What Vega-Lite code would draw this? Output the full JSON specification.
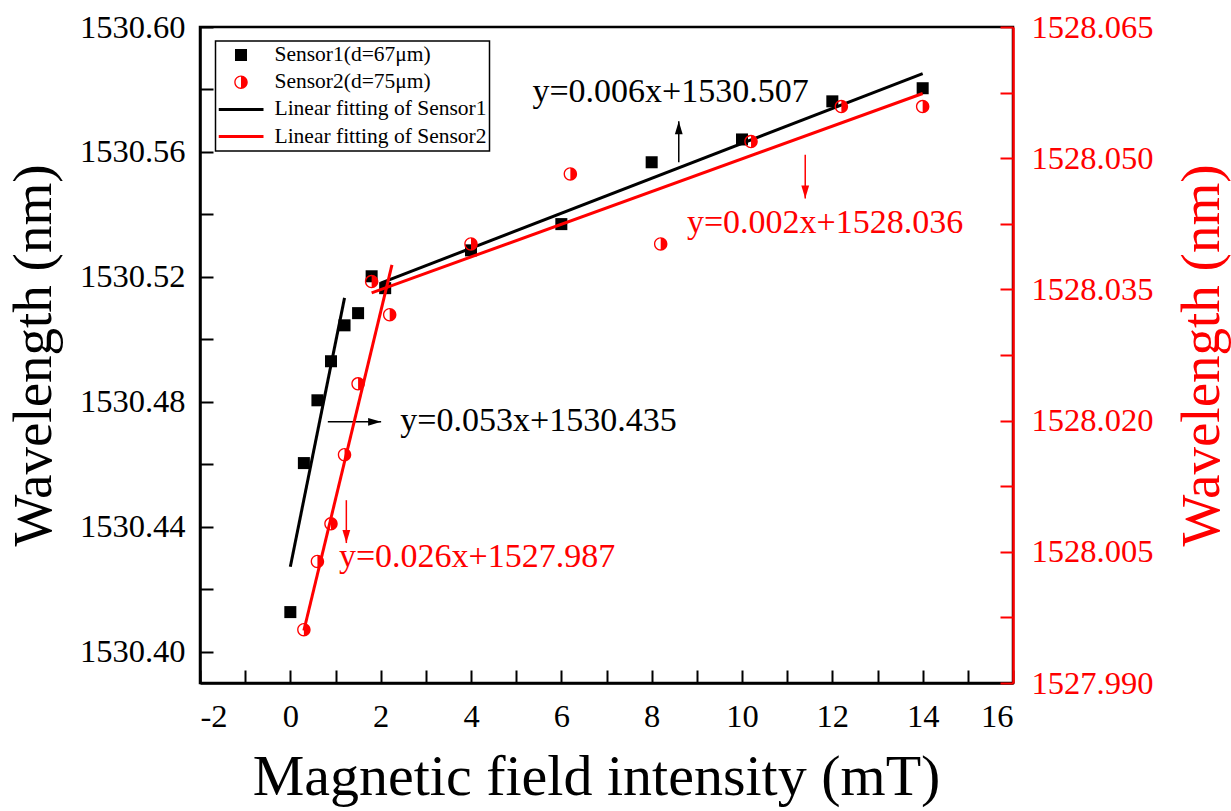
{
  "$schema": "https://vega.github.io/schema/vega-lite/v6.json",
  "width": 813,
  "height": 656,
  "autosize": "none",
  "padding": {"left": 200, "top": 27, "right": 218, "bottom": 128},
  "background": "white",
  "config": {
    "font": "Liberation Serif",
    "view": {"stroke": "black", "strokeWidth": 2.5},
    "legend": {"strokeWidth": 1.5},
    "axis": {
      "labelFont": "Liberation Serif", "labelFontSize": 32.5, "labelColor": "black",
      "titleFont": "Liberation Serif", "titleFontSize": 55, "titleFontWeight": "normal", "titleColor": "black",
      "domainColor": "black", "domainWidth": 2.5, "tickColor": "black", "tickWidth": 2, "grid": false
    }
  },
  "datasets": {
    "s1": [
      {"x": 0, "y": 1530.4127, "series": "Sensor1(d=67μm)"},
      {"x": 0.3, "y": 1530.4604, "series": "Sensor1(d=67μm)"},
      {"x": 0.6, "y": 1530.4805, "series": "Sensor1(d=67μm)"},
      {"x": 0.9, "y": 1530.493, "series": "Sensor1(d=67μm)"},
      {"x": 1.2, "y": 1530.5045, "series": "Sensor1(d=67μm)"},
      {"x": 1.5, "y": 1530.5084, "series": "Sensor1(d=67μm)"},
      {"x": 1.8, "y": 1530.5202, "series": "Sensor1(d=67μm)"},
      {"x": 2.1, "y": 1530.5164, "series": "Sensor1(d=67μm)"},
      {"x": 4, "y": 1530.5285, "series": "Sensor1(d=67μm)"},
      {"x": 6, "y": 1530.5369, "series": "Sensor1(d=67μm)"},
      {"x": 8, "y": 1530.5567, "series": "Sensor1(d=67μm)"},
      {"x": 10, "y": 1530.564, "series": "Sensor1(d=67μm)"},
      {"x": 12, "y": 1530.5762, "series": "Sensor1(d=67μm)"},
      {"x": 14, "y": 1530.5804, "series": "Sensor1(d=67μm)"}
    ],
    "s2": [
      {"x": 0.3, "y": 1527.9961, "series": "Sensor2(d=75μm)"},
      {"x": 0.6, "y": 1528.0039, "series": "Sensor2(d=75μm)"},
      {"x": 0.9, "y": 1528.0082, "series": "Sensor2(d=75μm)"},
      {"x": 1.2, "y": 1528.0161, "series": "Sensor2(d=75μm)"},
      {"x": 1.5, "y": 1528.0242, "series": "Sensor2(d=75μm)"},
      {"x": 1.8, "y": 1528.0359, "series": "Sensor2(d=75μm)"},
      {"x": 2.2, "y": 1528.0321, "series": "Sensor2(d=75μm)"},
      {"x": 4, "y": 1528.0402, "series": "Sensor2(d=75μm)"},
      {"x": 6.2, "y": 1528.0482, "series": "Sensor2(d=75μm)"},
      {"x": 8.2, "y": 1528.0402, "series": "Sensor2(d=75μm)"},
      {"x": 10.2, "y": 1528.0519, "series": "Sensor2(d=75μm)"},
      {"x": 12.2, "y": 1528.0559, "series": "Sensor2(d=75μm)"},
      {"x": 14, "y": 1528.0559, "series": "Sensor2(d=75μm)"}
    ],
    "fit1": [
      {"x": 0, "y": 1530.4272, "seg": "a"},
      {"x": 1.2, "y": 1530.5133, "seg": "a"},
      {"x": 2, "y": 1530.518, "seg": "b"},
      {"x": 14, "y": 1530.5851, "seg": "b"}
    ],
    "fit2": [
      {"x": 0.3, "y": 1527.996, "seg": "a"},
      {"x": 2.25, "y": 1528.0378, "seg": "a"},
      {"x": 1.8, "y": 1528.0346, "seg": "b"},
      {"x": 14, "y": 1528.0574, "seg": "b"}
    ],
    "txt1": [
      {"x": 5.36, "y": 1530.576, "label": "y=0.006x+1530.507"},
      {"x": 2.435, "y": 1530.4706, "label": "y=0.053x+1530.435"}
    ],
    "txt2": [
      {"x": 8.78, "y": 1528.0414, "label": "y=0.002x+1528.036"},
      {"x": 1.075, "y": 1528.0033, "label": "y=0.026x+1527.987"}
    ],
    "arr1": [
      {"x": 8.6, "y": 1530.5567, "x2": 8.6, "y2": 1530.5698, "dir": "up"},
      {"x": 0.83, "y": 1530.4736, "x2": 2.01, "y2": 1530.4736, "dir": "right"}
    ],
    "arr2": [
      {"x": 11.4, "y": 1528.0504, "x2": 11.4, "y2": 1528.0454, "dir": "down"},
      {"x": 1.24, "y": 1528.0109, "x2": 1.24, "y2": 1528.006, "dir": "down"}
    ]
  },
  "layer": [
    {
      "layer": [
        {
          "data": {"name": "s1"},
          "mark": {"type": "point", "filled": true, "opacity": 1, "size": 2025, "strokeWidth": 0},
          "encoding": {
            "x": {
              "field": "x", "type": "quantitative",
              "scale": {"domain": [-2, 16], "nice": false, "zero": false},
              "axis": {
                "values": [-2, -1, 0, 1, 2, 3, 4, 5, 6, 7, 8, 9, 10, 11, 12, 13, 14, 15, 16],
                "labelExpr": "datum.value % 2 === 0 ? '' + datum.value : ''",
                "labelFontSize": 32.5,
                "tickSize": -13,
                "labelPadding": 30,
                "encode": {
                  "ticks": {
                    "y2": {"condition": {"test": "datum.value % 2 !== 0", "value": -7}, "value": -13}
                  }
                },
                "title": "Magnetic field intensity (mT)",
                "titleFontSize": 58,
                "titleBaseline": "alphabetic",
                "titleX": 396,
                "titleY": 111
              }
            },
            "y": {
              "field": "y", "type": "quantitative",
              "scale": {"domain": [1530.39, 1530.6], "nice": false, "zero": false},
              "axis": {
                "orient": "left",
                "values": [1530.4, 1530.42, 1530.44, 1530.46, 1530.48, 1530.5, 1530.52, 1530.54, 1530.56, 1530.58, 1530.6],
                "labelExpr": "round(datum.value*100) % 4 === 0 ? format(datum.value, '.2f') : ''",
                "labelFontSize": 32.5,
                "tickSize": -13,
                "labelPadding": 28,
                "encode": {
                  "ticks": {
                    "x2": {"condition": {"test": "round(datum.value*100) % 4 !== 0", "value": 7}, "value": 13}
                  }
                },
                "title": "Wavelength (nm)",
                "titleAngle": -90,
                "titleBaseline": "alphabetic",
                "titleAlign": "center",
                "titleX": -150,
                "titleY": 328
              }
            },
            "color": {
              "field": "series", "type": "nominal",
              "scale": {
                "domain": ["Sensor1(d=67μm)", "Sensor2(d=75μm)", "Linear fitting of Sensor1", "Linear fitting of Sensor2"],
                "range": ["black", "#ff0000", "black", "#ff0000"]
              },
              "legend": {
                "title": null,
                "orient": "none",
                "legendX": 15.5,
                "legendY": 14,
                "padding": 3,
                "strokeColor": "black",
                "fillColor": "white",
                "labelFont": "Liberation Serif",
                "labelFontSize": 21.5,
                "labelColor": "black",
                "labelLimit": 320,
                "labelOffset": 11,
                "symbolOffset": 0,
                "clipHeight": 22,
                "rowPadding": 5.2,
                "symbolSize": 2025,
                "symbolStrokeWidth": 0
              }
            },
            "shape": {
              "field": "series", "type": "nominal",
              "scale": {
                "domain": ["Sensor1(d=67μm)", "Sensor2(d=75μm)", "Linear fitting of Sensor1", "Linear fitting of Sensor2"],
                "range": [
                  "M-0.267 -0.267L0.267 -0.267L0.267 0.267L-0.267 0.267Z",
                  "M0 -0.3A0.3 0.3 0 0 1 0 0.3ZM0 0.3A0.3 0.3 0 0 1 0 -0.3L0 -0.24A0.24 0.24 0 0 0 0 0.24Z",
                  "M-1 -0.067L1 -0.067L1 0.067L-1 0.067Z",
                  "M-1 -0.067L1 -0.067L1 0.067L-1 0.067Z"
                ]
              },
              "legend": {
                "title": null,
                "orient": "none",
                "legendX": 15.5,
                "legendY": 14,
                "padding": 3,
                "strokeColor": "black",
                "fillColor": "white",
                "labelFont": "Liberation Serif",
                "labelFontSize": 21.5,
                "labelColor": "black",
                "labelLimit": 320,
                "labelOffset": 11,
                "symbolOffset": 0,
                "clipHeight": 22,
                "rowPadding": 5.2,
                "symbolSize": 2025,
                "symbolStrokeWidth": 0
              }
            }
          }
        },
        {
          "data": {"name": "fit1"},
          "mark": {"type": "line", "strokeWidth": 3, "color": "black"},
          "encoding": {
            "x": {"field": "x", "type": "quantitative"},
            "y": {"field": "y", "type": "quantitative"},
            "detail": {"field": "seg", "type": "nominal"}
          }
        },
        {
          "data": {"name": "txt1"},
          "mark": {"type": "text", "align": "left", "baseline": "alphabetic", "fontSize": 34, "font": "Liberation Serif", "color": "black"},
          "encoding": {
            "x": {"field": "x", "type": "quantitative"},
            "y": {"field": "y", "type": "quantitative"},
            "text": {"field": "label"}
          }
        },
        {
          "data": {"name": "arr1"},
          "mark": {"type": "rule", "strokeWidth": 1.5, "color": "black"},
          "encoding": {
            "x": {"field": "x", "type": "quantitative"},
            "y": {"field": "y", "type": "quantitative"},
            "x2": {"field": "x2"},
            "y2": {"field": "y2"}
          }
        },
        {
          "data": {"name": "arr1"},
          "transform": [{"filter": "datum.dir === 'up'"}],
          "mark": {"type": "point", "shape": "M0 0L-0.6 2L0.6 2Z", "filled": true, "color": "black", "opacity": 1, "size": 169},
          "encoding": {
            "x": {"field": "x2", "type": "quantitative"},
            "y": {"field": "y2", "type": "quantitative"}
          }
        },
        {
          "data": {"name": "arr1"},
          "transform": [{"filter": "datum.dir === 'right'"}],
          "mark": {"type": "point", "shape": "M0 0L-2 -0.6L-2 0.6Z", "filled": true, "color": "black", "opacity": 1, "size": 169},
          "encoding": {
            "x": {"field": "x2", "type": "quantitative"},
            "y": {"field": "y2", "type": "quantitative"}
          }
        }
      ]
    },
    {
      "layer": [
        {
          "data": {"name": "s2"},
          "mark": {"type": "point", "filled": true, "opacity": 1, "size": 2025, "strokeWidth": 0},
          "encoding": {
            "x": {"field": "x", "type": "quantitative"},
            "y": {
              "field": "y", "type": "quantitative",
              "scale": {"domain": [1527.99, 1528.065], "nice": false, "zero": false},
              "axis": {
                "orient": "right",
                "values": [1527.99, 1527.9975, 1528.005, 1528.0125, 1528.02, 1528.0275, 1528.035, 1528.0425, 1528.05, 1528.0575, 1528.065],
                "labelExpr": "round((datum.value-1527.99)*10000) % 150 === 0 ? format(datum.value, '.3f') : ''",
                "labelFontSize": 32.5,
                "tickSize": -13,
                "labelPadding": 31,
                "encode": {
                  "ticks": {
                    "x2": {"condition": {"test": "round((datum.value-1527.99)*10000) % 150 !== 0", "value": -7}, "value": -13}
                  }
                },
                "labelColor": "#ff0000",
                "domainColor": "#ff0000",
                "tickColor": "#ff0000",
                "titleColor": "#ff0000",
                "title": "Wavelength (nm)",
                "titleAngle": -90,
                "titleBaseline": "alphabetic",
                "titleAlign": "center",
                "titleX": 205,
                "titleY": 328
              }
            },
            "color": {"field": "series", "type": "nominal"},
            "shape": {"field": "series", "type": "nominal"}
          }
        },
        {
          "data": {"name": "fit2"},
          "mark": {"type": "line", "strokeWidth": 3, "color": "#ff0000"},
          "encoding": {
            "x": {"field": "x", "type": "quantitative"},
            "y": {"field": "y", "type": "quantitative"},
            "detail": {"field": "seg", "type": "nominal"}
          }
        },
        {
          "data": {"name": "txt2"},
          "mark": {"type": "text", "align": "left", "baseline": "alphabetic", "fontSize": 34, "font": "Liberation Serif", "color": "#ff0000"},
          "encoding": {
            "x": {"field": "x", "type": "quantitative"},
            "y": {"field": "y", "type": "quantitative"},
            "text": {"field": "label"}
          }
        },
        {
          "data": {"name": "arr2"},
          "mark": {"type": "rule", "strokeWidth": 1.5, "color": "#ff0000"},
          "encoding": {
            "x": {"field": "x", "type": "quantitative"},
            "y": {"field": "y", "type": "quantitative"},
            "x2": {"field": "x2"},
            "y2": {"field": "y2"}
          }
        },
        {
          "data": {"name": "arr2"},
          "mark": {"type": "point", "shape": "M0 0L-0.6 -2L0.6 -2Z", "filled": true, "color": "#ff0000", "opacity": 1, "size": 169},
          "encoding": {
            "x": {"field": "x2", "type": "quantitative"},
            "y": {"field": "y2", "type": "quantitative"}
          }
        }
      ]
    }
  ],
  "resolve": {"scale": {"y": "independent"}}
}
